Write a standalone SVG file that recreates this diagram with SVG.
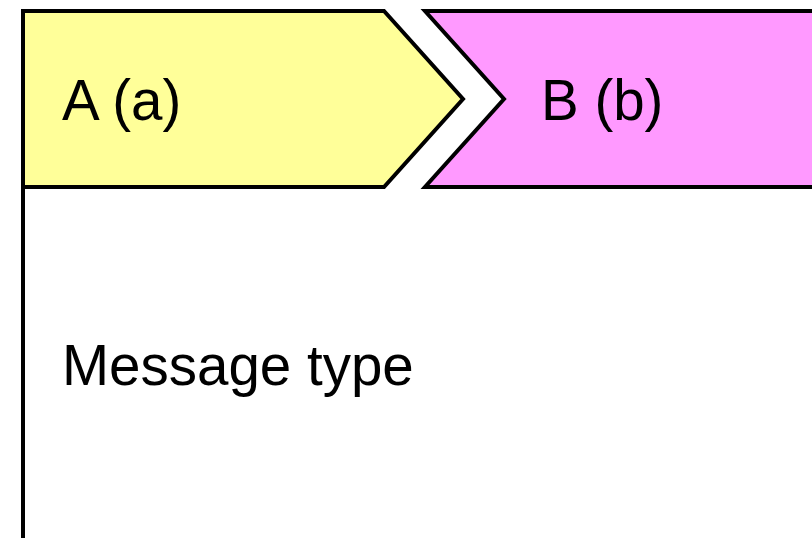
<svg xmlns="http://www.w3.org/2000/svg" width="812" height="538" viewBox="0 0 812 538">
<style>
.shape{stroke:#000;stroke-width:4;stroke-linejoin:miter}
.lbl{font-family:"Liberation Sans",Arial,sans-serif;font-size:56.5px;fill:#000}
</style>
<rect width="812" height="538" fill="#fff"/>
<g id="frame">
<line x1="23" y1="11" x2="23" y2="538" class="shape"/>
</g>
<g id="nodeA">
<polygon points="23,11 384,11 463,99 384,187 23,187" fill="#FFFF99" class="shape"/>
<text x="62" y="120" class="lbl">A (a)</text>
</g>
<g id="nodeB">
<polygon points="425,11 815,11 815,187 425,187 504,99" fill="#FF99FF" class="shape"/>
<text x="541" y="120" class="lbl">B (b)</text>
</g>
<g id="message">
<text x="62" y="385" class="lbl">Message type</text>
</g>
<g id="connectors"/>
</svg>
